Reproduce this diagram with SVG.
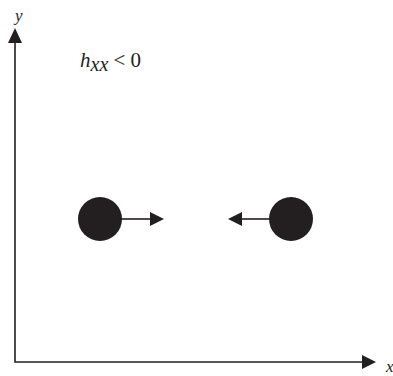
<svg xmlns="http://www.w3.org/2000/svg" width="393" height="376" viewBox="0 0 393 376">
<style>
.ln{stroke:#231f20;stroke-width:1.6;fill:none}
.hd{fill:#231f20}
.t{font-family:"Liberation Serif",serif;fill:#231f20}
.i{font-style:italic}
</style>
<rect width="393" height="376" fill="#fff"/>
<g id="axes">
<path class="ln" d="M15,42 V362 H363"/>
<polygon class="hd" points="15,28 8,43 22,43"/>
<polygon class="hd" points="376,362 362,355 362,369"/>
<text class="t i" x="15" y="21" font-size="17">y</text>
<text class="t i" x="386" y="372" font-size="17">x</text>
</g>
<g id="label">
<text class="t" x="80" y="67" font-size="21"><tspan class="i">h</tspan><tspan class="i" dy="4" font-size="20">xx</tspan><tspan dy="-4"> &lt; 0</tspan></text>
</g>
<g id="left">
<circle class="hd" cx="100" cy="219" r="22"/>
</g>
<g id="right">
<circle class="hd" cx="291" cy="219" r="22"/>
</g>
<g id="connectors">
<line class="ln" x1="120" y1="219" x2="151" y2="219"/>
<polygon class="hd" points="164,219 150,212 150,226"/>
<line class="ln" x1="241" y1="219" x2="271" y2="219"/>
<polygon class="hd" points="228,219 242,212 242,226"/>
</g>
</svg>
